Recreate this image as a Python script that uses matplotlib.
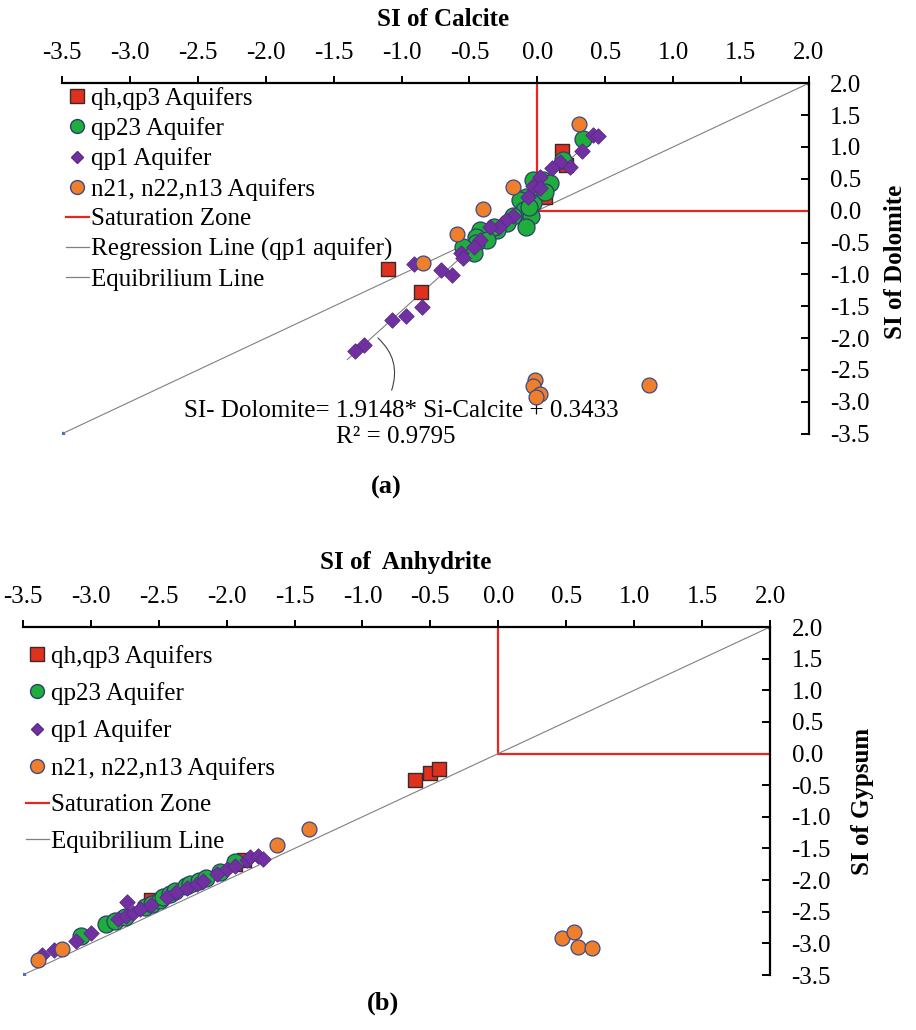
import numpy as np
import matplotlib
matplotlib.use("Agg")
import matplotlib.pyplot as plt
from matplotlib.lines import Line2D
from matplotlib.ticker import FormatStrFormatter, MultipleLocator

plt.rcParams['font.family'] = ['Liberation Serif', 'DejaVu Serif']

# ---- panel (a): SI calcite vs SI dolomite ----
a_qh_x = [0.18, 0.21, 0.06, -1.10, -0.86]
a_qh_y = [0.93, 0.72, 0.22, -0.92, -1.28]

a_qp23_x = [0.34, 0.19, -0.03, 0.04, 0.09, 0.00, -0.08, -0.13, -0.03, -0.10, -0.05, -0.18,
            -0.08, -0.22, -0.30, -0.32, -0.42, -0.45, -0.37, -0.45, -0.52, -0.55, -0.47, -0.06, 0.06]
a_qp23_y = [1.12, 0.80, 0.48, 0.48, 0.43, 0.33, 0.22, 0.17, 0.12, 0.01, -0.09, -0.09,
            -0.25, -0.20, -0.30, -0.25, -0.30, -0.41, -0.46, -0.51, -0.62, -0.57, -0.67, 0.05, 0.30]

a_qp1_x = [0.41, 0.45, 0.33, 0.24, 0.17, 0.11, 0.02, -0.03, 0.02, -0.07, -0.18, -0.23, -0.28,
           -0.35, -0.42, -0.47, -0.56, -0.55, -0.91, -0.71, -0.63, -0.85, -0.97, -1.07, -1.28, -1.34]
a_qp1_y = [1.19, 1.17, 0.94, 0.68, 0.77, 0.67, 0.53, 0.38, 0.35, 0.22, -0.09, -0.15, -0.25,
           -0.25, -0.46, -0.57, -0.67, -0.75, -0.83, -0.93, -1.01, -1.51, -1.65, -1.71, -2.11, -2.21]

a_n2_x = [0.31, -0.18, -0.40, -0.59, -0.84, -0.02, -0.03, 0.02, -0.01, 0.82]
a_n2_y = [1.36, 0.37, 0.02, -0.37, -0.82, -2.66, -2.76, -2.88, -2.92, -2.74]

reg_slope = 1.9148
reg_icpt = 0.3433
reg_x = [-1.40, 0.45]

# ---- panel (b): SI anhydrite vs SI gypsum ----
b_qh_x = [-0.61, -0.50, -0.44, -2.56, -1.87, -1.94]
b_qh_y = [-0.42, -0.31, -0.24, -2.32, -1.69, -1.75]

b_qp23_x = [-3.07, -2.89, -2.82, -2.75, -2.60, -2.55, -2.49, -2.47, -2.42, -2.38, -2.30,
            -2.27, -2.20, -2.15, -2.05, -1.94]
b_qp23_y = [-2.88, -2.70, -2.64, -2.58, -2.42, -2.38, -2.32, -2.27, -2.22, -2.17, -2.10,
            -2.06, -2.02, -1.96, -1.88, -1.72]

b_qp1_x = [-3.36, -3.27, -3.11, -3.00, -2.80, -2.74, -2.73, -2.69, -2.64, -2.56, -2.44,
           -2.37, -2.29, -2.22, -2.17, -2.07, -2.00, -1.94, -1.85, -1.83, -1.77, -1.73]
b_qp1_y = [-3.18, -3.10, -2.97, -2.84, -2.61, -2.57, -2.35, -2.52, -2.46, -2.40, -2.27,
           -2.19, -2.12, -2.06, -2.01, -1.91, -1.83, -1.77, -1.69, -1.64, -1.62, -1.67]

b_n2_x = [-3.39, -3.21, -1.63, -1.39, 0.47, 0.56, 0.59, 0.69]
b_n2_y = [-3.27, -3.09, -1.44, -1.19, -2.91, -2.82, -3.05, -3.08]

eq_x = [-3.5, 2.0]
sat_x = [0.0, 0.0, 2.0]
sat_y = [2.0, 0.0, 0.0]

labels = ['qh,qp3 Aquifers', 'qp23 Aquifer', 'qp1 Aquifer', 'n21, n22,n13 Aquifers',
          'Saturation Zone', 'Regression Line (qp1 aquifer)', 'Equibrilium Line']

RED = '#e0301e'
GREEN = '#1fae3c'
PURPLE = '#7030a0'
ORANGE = '#ef7f2a'
GRAY = '#808080'
FS = 18

W, H = 916, 1030
fig = plt.figure(figsize=(W / 100, H / 100), dpi=100)


def px_axes(x0, x1, y0, y1):
    return fig.add_axes([x0 / W, 1 - y1 / H, (x1 - x0) / W, (y1 - y0) / H])


def style_axes(ax):
    ax.set_xlim(-3.5, 2.0)
    ax.set_ylim(-3.5, 2.0)
    ax.spines['left'].set_visible(False)
    ax.spines['bottom'].set_visible(False)
    for s in ['top', 'right']:
        ax.spines[s].set_linewidth(1.6)
    ax.xaxis.set_ticks_position('top')
    ax.yaxis.set_ticks_position('right')
    ax.xaxis.set_major_locator(MultipleLocator(0.5))
    ax.yaxis.set_major_locator(MultipleLocator(0.5))
    ax.xaxis.set_major_formatter(FormatStrFormatter('%.1f'))
    ax.yaxis.set_major_formatter(FormatStrFormatter('%.1f'))
    ax.tick_params(axis='x', direction='out', length=5, width=1.4, pad=9, labelsize=FS)
    ax.tick_params(axis='y', direction='in', length=5.5, width=1.4, pad=15.5, labelsize=FS)
    for lab in ax.get_yticklabels():
        lab.set_horizontalalignment('left')


def draw_series(ax, qh, qp23, qp1, n2):
    ax.scatter(*qh, marker='s', s=105, color=RED, edgecolors='#3a2a2a', linewidths=1.0, zorder=3)
    ax.scatter(*qp23, marker='o', s=150, color=GREEN, edgecolors='#2a3f6e', linewidths=0.9, zorder=4)
    ax.scatter(*qp1, marker='D', s=62, color=PURPLE, edgecolors='#5a2a8a', linewidths=0.6, zorder=5)
    ax.scatter(*n2, marker='o', s=115, color=ORANGE, edgecolors='#3a4a8a', linewidths=0.9, zorder=6)
    ax.plot(sat_x, sat_y, color='#e8261c', lw=1.6, zorder=2)
    ax.plot(eq_x, eq_x, color=GRAY, lw=0.8, marker='o', ms=3, mfc='#4472c4', mec='#4472c4', zorder=2)


def legend_handles(with_reg):
    h = [Line2D([], [], ls='none', marker='s', ms=9.5, mfc=RED, mec='#3a2a2a'),
         Line2D([], [], ls='none', marker='o', ms=10, mfc=GREEN, mec='#2a3f6e'),
         Line2D([], [], ls='none', marker='D', ms=6.5, mfc=PURPLE, mec='#5a2a8a'),
         Line2D([], [], ls='none', marker='o', ms=10, mfc=ORANGE, mec='#3a4a8a'),
         Line2D([], [], color='#e8261c', lw=1.6)]
    labs = labels[:5]
    if with_reg:
        h.append(Line2D([], [], color=GRAY, lw=0.9))
        labs = labs + [labels[5]]
    h.append(Line2D([], [], color=GRAY, lw=0.9))
    labs = labs + [labels[6]]
    return h, labs


# panel (a)
ax1 = px_axes(62.35, 808.7, 83.3, 433.6)
style_axes(ax1)
draw_series(ax1, (a_qh_x, a_qh_y), (a_qp23_x, a_qp23_y), (a_qp1_x, a_qp1_y), (a_n2_x, a_n2_y))
rx = np.array(reg_x)
ax1.plot(rx, reg_slope * rx + reg_icpt, color=GRAY, lw=0.8, zorder=2)
ax1.annotate('', xy=(-1.19, -1.97), xytext=(-1.08, -2.86),
             arrowprops=dict(arrowstyle='-', connectionstyle='arc3,rad=0.35', color='#404040', lw=0.8))
ax1.text(-1.0, -3.14, 'SI- Dolomite= 1.9148* Si-Calcite + 0.3433', fontsize=FS, ha='center', va='center')
ax1.text(-1.04, -3.55, 'R² = 0.9795', fontsize=FS, ha='center', va='center')
h, l = legend_handles(True)
fig.legend(h, l, loc='upper left', bbox_to_anchor=(66 / W, 1 - 87 / H), frameon=False,
           fontsize=FS, borderpad=0, borderaxespad=0, handlelength=0.9, handletextpad=0.1,
           labelspacing=0.29)
fig.text(443 / W, 1 - 19 / H, 'SI of Calcite', fontsize=18, fontweight='bold', ha='center', va='center')
fig.text(896 / W, 1 - 262 / H, 'SI of Dolomite', fontsize=18, fontweight='bold', ha='center',
         va='center', rotation=90)
fig.text(386 / W, 1 - 487 / H, '(a)', fontsize=19, fontweight='bold', ha='center', va='center')

# panel (b)
ax2 = px_axes(22.8, 770.0, 627.0, 975.0)
style_axes(ax2)
draw_series(ax2, (b_qh_x, b_qh_y), (b_qp23_x, b_qp23_y), (b_qp1_x, b_qp1_y), (b_n2_x, b_n2_y))
h, l = legend_handles(False)
fig.legend(h, l, loc='upper left', bbox_to_anchor=(26 / W, 1 - 645 / H), frameon=False,
           fontsize=FS, borderpad=0, borderaxespad=0, handlelength=0.9, handletextpad=0.1,
           labelspacing=0.57)
fig.text(406 / W, 1 - 563 / H, 'SI of  Anhydrite', fontsize=18, fontweight='bold', ha='center', va='center')
fig.text(862 / W, 1 - 801 / H, 'SI of Gypsum', fontsize=18, fontweight='bold', ha='center',
         va='center', rotation=90)
fig.text(383 / W, 1 - 1003 / H, '(b)', fontsize=19, fontweight='bold', ha='center', va='center')

fig.savefig('out.png', dpi=100)
